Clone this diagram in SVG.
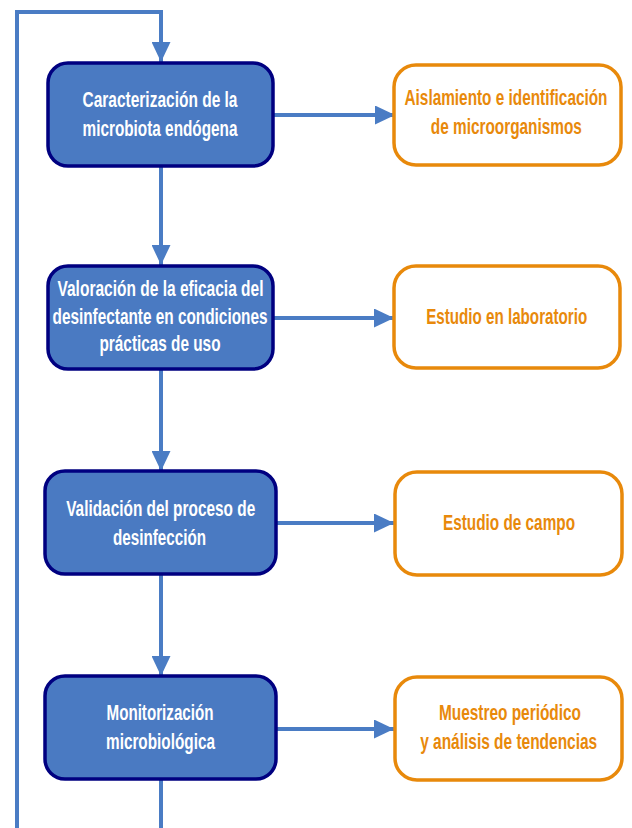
<svg xmlns="http://www.w3.org/2000/svg" width="632" height="828" viewBox="0 0 632 828">
<style>
.main rect{fill:#4A7AC2;stroke:#000080;stroke-width:3.5}
.side rect{fill:#fff;stroke:#E8890B;stroke-width:3.5}
text{font-family:"Liberation Sans",Arial,sans-serif;font-weight:bold;font-size:22px;text-anchor:middle}
.main text{fill:#fff}
.side text{fill:#E8890B}
.conn path{fill:none;stroke:#4A7CC4;stroke-width:4}
</style>
<defs>
<marker id="ah" viewBox="0 0 20 19" refX="20" refY="9.5" markerWidth="20" markerHeight="19" markerUnits="userSpaceOnUse" orient="auto">
<path d="M0,0 L20,9.5 L0,19 z" fill="#4A7CC4"/>
</marker>
</defs>
<g class="conn">
<path d="M17,828 V12 H161 V62" marker-end="url(#ah)"/>
<path d="M161,166 V265" marker-end="url(#ah)"/>
<path d="M161,369 V471" marker-end="url(#ah)"/>
<path d="M161,574 V676" marker-end="url(#ah)"/>
<path d="M161,779 V828"/>
<path d="M273,115 H395" marker-end="url(#ah)"/>
<path d="M273,318 H394" marker-end="url(#ah)"/>
<path d="M276,523 H394" marker-end="url(#ah)"/>
<path d="M276,729 H394" marker-end="url(#ah)"/>
</g>
<g id="n1" class="main"><rect x="48" y="63" width="225" height="103" rx="20"/><text x="160" y="107" textLength="155" lengthAdjust="spacingAndGlyphs">Caracterización de la</text><text x="160" y="136" textLength="155" lengthAdjust="spacingAndGlyphs">microbiota endógena</text></g>
<g id="n2" class="main"><rect x="48" y="266" width="225" height="103" rx="20"/><text x="160.5" y="296" textLength="206" lengthAdjust="spacingAndGlyphs">Valoración de la eficacia del</text><text x="160" y="324" textLength="215" lengthAdjust="spacingAndGlyphs">desinfectante en condiciones</text><text x="160" y="351" textLength="121" lengthAdjust="spacingAndGlyphs">prácticas de uso</text></g>
<g id="n3" class="main"><rect x="45" y="471" width="231" height="103" rx="20"/><text x="160.7" y="516" textLength="189" lengthAdjust="spacingAndGlyphs">Validación del proceso de</text><text x="159.5" y="545" textLength="93" lengthAdjust="spacingAndGlyphs">desinfección</text></g>
<g id="n4" class="main"><rect x="45" y="676" width="231" height="103" rx="20"/><text x="160" y="720" textLength="107" lengthAdjust="spacingAndGlyphs">Monitorización</text><text x="160.5" y="749" textLength="109" lengthAdjust="spacingAndGlyphs">microbiológica</text></g>
<g id="s1" class="side"><rect x="394" y="65" width="227" height="100" rx="22"/><text x="506" y="105" textLength="203" lengthAdjust="spacingAndGlyphs">Aislamiento e identificación</text><text x="506.3" y="134" textLength="151" lengthAdjust="spacingAndGlyphs">de microorganismos</text></g>
<g id="s2" class="side"><rect x="394" y="266" width="226" height="102" rx="22"/><text x="506.7" y="324" textLength="161" lengthAdjust="spacingAndGlyphs">Estudio en laboratorio</text></g>
<g id="s3" class="side"><rect x="395" y="472" width="227" height="103" rx="22"/><text x="509" y="530" textLength="132" lengthAdjust="spacingAndGlyphs">Estudio de campo</text></g>
<g id="s4" class="side"><rect x="395" y="677" width="227" height="103" rx="22"/><text x="510" y="720" textLength="142" lengthAdjust="spacingAndGlyphs">Muestreo periódico</text><text x="508.7" y="749" textLength="177" lengthAdjust="spacingAndGlyphs">y análisis de tendencias</text></g>
</svg>
